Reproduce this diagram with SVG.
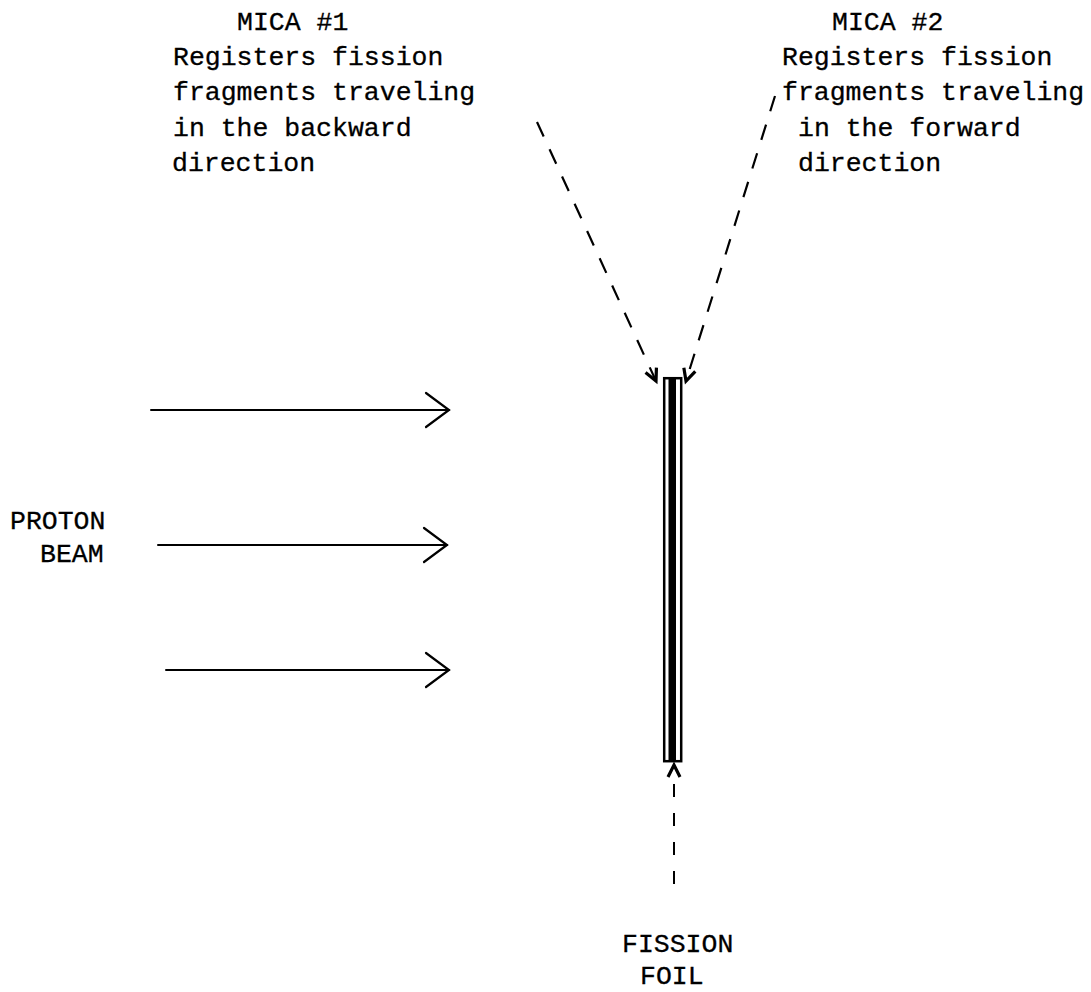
<svg xmlns="http://www.w3.org/2000/svg" width="1091" height="992" viewBox="0 0 1091 992">
<style>
.t{font-family:"Liberation Mono","Courier New",monospace;font-size:26.5px;fill:#000;stroke:#000;stroke-width:0.3}
.ln{fill:none;stroke:#000;stroke-width:2;stroke-linecap:round}
.dash{fill:none;stroke:#000;stroke-width:2.2;stroke-dasharray:16 14}
.vdash{fill:none;stroke:#000;stroke-width:2;stroke-dasharray:13 16}
.hd{fill:none;stroke:#000;stroke-width:2.2;stroke-linecap:round;stroke-linejoin:miter}
.sh{fill:none;stroke:#000;stroke-width:3.2;stroke-linecap:butt;stroke-linejoin:miter}
</style>
<defs>
<marker id="open" markerUnits="userSpaceOnUse" markerWidth="30" markerHeight="40" refX="25" refY="18" orient="auto" overflow="visible">
<path class="hd" d="M2,1 L25,18 L2,35"/>
</marker>
<marker id="small" markerUnits="userSpaceOnUse" markerWidth="16" markerHeight="16" refX="13" refY="7" orient="auto" overflow="visible">
<path class="sh" d="M1,1 L13,7 L1,13"/>
</marker>
</defs>
<rect width="1091" height="992" fill="#fff"/>

<g id="mica1">
<text class="t" x="237" y="30">MICA #1</text>
<text class="t" x="173" y="65">Registers fission</text>
<text class="t" x="173" y="100">fragments traveling</text>
<text class="t" x="173" y="136">in the backward</text>
<text class="t" x="172" y="171">direction</text>
</g>
<g id="mica2">
<text class="t" x="832" y="30">MICA #2</text>
<text class="t" x="782" y="65">Registers fission</text>
<text class="t" x="782" y="100">fragments traveling</text>
<text class="t" x="798" y="136">in the forward</text>
<text class="t" x="798" y="171">direction</text>
</g>
<g id="proton-beam">
<text class="t" x="10" y="529">PROTON</text>
<text class="t" x="40" y="562">BEAM</text>
</g>
<g id="fission-foil">
<rect x="664.2" y="378.2" width="17" height="383" fill="#fff" stroke="#000" stroke-width="2.5"/>
<rect x="668.5" y="379" width="7.5" height="381" fill="#000"/>
<text class="t" x="622" y="952">FISSION</text>
<text class="t" x="640" y="984">FOIL</text>
</g>
<g id="connectors">
<path class="ln" d="M151,410 L449,410" marker-end="url(#open)"/>
<path class="ln" d="M158,545 L447,545" marker-end="url(#open)"/>
<path class="ln" d="M166,670 L449,670" marker-end="url(#open)"/>
<path class="dash" d="M537,122 L656,381" marker-end="url(#small)"/>
<path class="dash" d="M775,96 L686,381" marker-end="url(#small)"/>
<path class="vdash" d="M674,884 L674,765" marker-end="url(#small)"/>
</g>
</svg>
